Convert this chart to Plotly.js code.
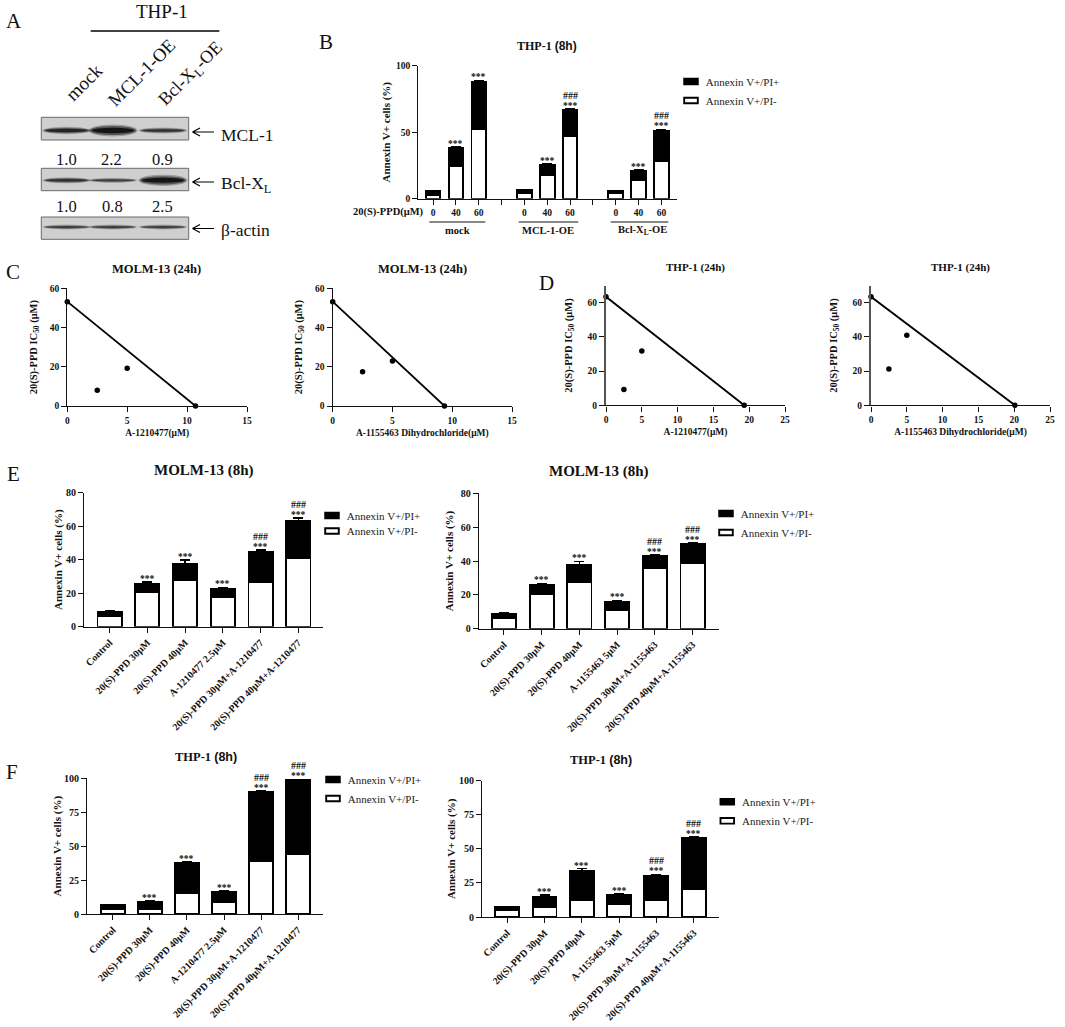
<!DOCTYPE html>
<html>
<head>
<meta charset="utf-8">
<script src="https://cdn.plot.ly/plotly-3.0.1.min.js"></script>
<style>html,body{margin:0;padding:0;background:#fff}</style>
</head>
<body>
<div id="chart" style="width:1065px;height:1027px"></div>
<script>
// ---- values ----
const seriesPlus = 'Annexin V+/PI+'
const seriesMinus = 'Annexin V+/PI-'

// panel A blot
const lanes = ['mock', 'MCL-1-OE', 'Bcl-X<sub>L</sub>-OE']
const proteins = ['MCL-1', 'Bcl-X<sub>L</sub>', 'β-actin']
const mclRatio = ['1.0', '2.2', '0.9']
const bclRatio = ['1.0', '0.8', '2.5']
const mclBand = [0.7, 1, 0.6]
const bclBand = [0.6, 0.5, 0.95]
const actinBand = [0.5, 0.5, 0.5]

// panel B
const bGroups = ['mock', 'MCL-1-OE', 'Bcl-X<sub>L</sub>-OE']
const bDoses = ['0', '40', '60']
const bMinus = [3, 24.5, 52.4, 4.3, 17.5, 47, 4, 14.3, 28.3]
const bPlus = [2.5, 13.5, 35.6, 2.2, 7.8, 19.7, 1.5, 6.5, 22.7]
const bErr = [0.4, 1, 1, 0.5, 1, 1, 0.4, 1, 1.2]
const bStars = ['', '***', '***', '', '***', '***', '', '***', '***']
const bHash = ['', '', '', '', '', '###', '', '', '###']

// panels C, D isobolograms
const cLeftX = [0, 2.5, 5, 10.7]
const cLeftY = [53.2, 8, 19.3, 0]
const cRightX = [0, 2.5, 5, 9.35]
const cRightY = [53.2, 17.5, 23, 0]
const dLeftX = [0, 2.5, 5, 19.3]
const dLeftY = [63.5, 9.2, 31.8, 0]
const dRightX = [0, 2.5, 5, 20.1]
const dRightY = [63.5, 21.2, 41, 0]

// panels E, F
const labels1210477 = ['Control', '20(S)-PPD 30μM', '20(S)-PPD 40μM', 'A-1210477 2.5μM', '20(S)-PPD 30μM+A-1210477', '20(S)-PPD 40μM+A-1210477']
const labels1155463 = ['Control', '20(S)-PPD 30μM', '20(S)-PPD 40μM', 'A-1155463 5μM', '20(S)-PPD 30μM+A-1155463', '20(S)-PPD 40μM+A-1155463']
const sixStars = ['', '***', '***', '***', '***', '***']
const sixHash = ['', '', '', '', '###', '###']

const eLeftMinus = [6.4, 20.5, 27.9, 17.7, 26.5, 40.8]
const eLeftPlus = [2.6, 5.2, 9.5, 4.8, 18.1, 22.5]
const eLeftErr = [0.5, 1, 2.5, 1, 1.3, 1.5]
const eRightMinus = [6.3, 20.5, 27.4, 11, 36, 38.8]
const eRightPlus = [2.7, 5.5, 10.2, 5, 7.2, 11.4]
const eRightErr = [0.4, 0.8, 2.2, 0.8, 0.5, 0.7]
const fLeftMinus = [3.4, 4, 15.7, 8.6, 38.8, 44]
const fLeftPlus = [3.2, 4.6, 21.9, 7.6, 51.2, 54.8]
const fLeftErr = [0.5, 1, 1, 0.7, 1, 0.5]
const fRightMinus = [5.1, 7.1, 12.7, 9.5, 12.7, 20.8]
const fRightPlus = [2.5, 7.9, 21.3, 6.5, 17.3, 36.9]
const fRightErr = [0.3, 1, 1.5, 1.2, 1.2, 1.2]

// ---- helpers ----
const W = 1065, H = 1027
const SERIF = '"Liberation Serif", serif'
const INK = '#111'
const fx = p => p / W
const fy = p => 1 - p / H

let traces = [], annotations = [], shapes = []
let layout = {
    width: W, height: H,
    margin: {l: 0, r: 0, t: 0, b: 0},
    paper_bgcolor: '#fff', plot_bgcolor: 'rgba(0,0,0,0)',
    barmode: 'stack', showlegend: true,
    font: {family: SERIF, color: INK}
}
let axisCount = 0

function note(x, y, text, size, opts) {
    annotations.push(Object.assign({
        xref: 'paper', yref: 'paper', x: fx(x), y: fy(y), text: text, showarrow: false,
        font: {family: SERIF, size: size, color: INK},
        xanchor: 'center', yanchor: 'middle'
    }, opts || {}))
}

// one subplot; returns axis refs
function addAxes(box, xOpts, yOpts) {
    axisCount++
    const n = axisCount === 1 ? '' : axisCount
    const base = {
        showline: true, linecolor: '#111', linewidth: 1.4, showgrid: false, zeroline: false,
        ticks: 'outside', ticklen: 5, tickwidth: 1.4, tickcolor: '#111',
        tickfont: {family: SERIF, size: 9.5, color: INK, weight: 'bold'},
        automargin: false
    }
    layout['xaxis' + n] = Object.assign({}, base, {
        domain: [fx(box.l), fx(box.r)], anchor: 'y' + n, tickmode: 'array', fixedrange: true
    }, xOpts)
    layout['yaxis' + n] = Object.assign({}, base, {
        domain: [fy(box.b), fy(box.t)], anchor: 'x' + n, tickmode: 'array', fixedrange: true
    }, yOpts)
    return {x: 'x' + n, y: 'y' + n}
}

function axisTitle(text, size, standoff) {
    return {text: text, standoff: standoff, font: {family: SERIF, size: size, color: INK, weight: 'bold'}}
}

function stackedBars(refs, legendId, xs, minus, plus, err) {
    const outline = {color: '#000', width: 1.9}
    traces.push({
        type: 'bar', x: xs, y: minus, width: 0.64, name: seriesMinus,
        xaxis: refs.x, yaxis: refs.y, legend: legendId,
        marker: {color: '#fff', line: outline}
    })
    traces.push({
        type: 'bar', x: xs, y: plus, width: 0.64, name: seriesPlus,
        xaxis: refs.x, yaxis: refs.y, legend: legendId,
        marker: {color: '#000', line: outline},
        error_y: {type: 'data', symmetric: false, array: err, arrayminus: err.map(() => 0), color: '#000', thickness: 1.4, width: 5}
    })
}

function placeLegend(legendId, textLeft, firstCenter) {
    layout[legendId] = {
        x: fx(textLeft - 40), y: fy(firstCenter - 15), xanchor: 'left', yanchor: 'top',
        bgcolor: 'rgba(0,0,0,0)', traceorder: 'reversed',
        font: {family: SERIF, size: 11, color: '#222'}
    }
}

// *** and ### sit just above each error cap
function sigMarks(refs, xs, minus, plus, err, stars, hash) {
    xs.forEach((x, i) => {
        const top = minus[i] + plus[i] + err[i]
        const base = {xref: refs.x, yref: refs.y, x: x, y: top, showarrow: false, xanchor: 'center', yanchor: 'middle'}
        if (stars[i]) annotations.push(Object.assign({}, base, {text: stars[i], yshift: 3, font: {family: SERIF, size: 9.5, color: INK, weight: 'bold'}}))
        if (hash[i]) annotations.push(Object.assign({}, base, {text: hash[i], yshift: 13.5, font: {family: SERIF, size: 10, color: INK, weight: 'bold'}}))
    })
}

function barPanel(box, xRange, yRange, yTicks, cats, minus, plus, err, stars, hash, legendId, standoff) {
    const xs = cats.map((c, i) => i)
    const refs = addAxes(box,
        {range: xRange, tickvals: xs, ticktext: cats, tickangle: -45},
        {range: yRange, tickvals: yTicks, title: axisTitle('Annexin V+ cells (%)', 11, standoff)})
    layout['xaxis' + axisCount].tickfont.size = 10
    layout['yaxis' + axisCount].tickfont = {family: SERIF, size: 10, color: INK, weight: 'bold'}
    stackedBars(refs, legendId, xs, minus, plus, err)
    sigMarks(refs, xs, minus, plus, err, stars, hash)
}

function isoPanel(box, xRange, xTicks, yRange, xs, ys, xName, xStandoff, yStandoff) {
    const refs = addAxes(box,
        {range: xRange, tickvals: xTicks, title: axisTitle(xName, 9.5, xStandoff)},
        {range: yRange, tickvals: [0, 20, 40, 60], title: axisTitle('20(S)-PPD IC<sub>50</sub> (μM)', 10.5, yStandoff)})
    const last = xs.length - 1
    traces.push({
        type: 'scatter', mode: 'lines', x: [xs[0], xs[last]], y: [ys[0], ys[last]],
        xaxis: refs.x, yaxis: refs.y, showlegend: false, cliponaxis: false,
        line: {color: '#000', width: 1.8}
    })
    traces.push({
        type: 'scatter', mode: 'markers', x: xs, y: ys,
        xaxis: refs.x, yaxis: refs.y, showlegend: false, cliponaxis: false,
        marker: {color: '#000', size: 5.5}
    })
}

// ---- panel B ----
{
    const slots = [], tickText = []
    bGroups.forEach((g, gi) => {
        bDoses.forEach((d, di) => { slots.push(gi * 4 + di); tickText.push(d) })
        if (gi < bGroups.length - 1) tickText.push('')
    })
    const refs = addAxes({l: 418.3, r: 676.7, t: 65.7, b: 198.7},
        {range: [-0.65, 10.67], tickvals: tickText.map((t, i) => i), ticktext: tickText, tickangle: 0},
        {range: [0, 100], tickvals: [0, 50, 100], title: axisTitle('Annexin V+ cells (%)', 11, 2.6)})
    stackedBars(refs, 'legend', slots, bMinus, bPlus, bErr)
    sigMarks(refs, slots, bMinus, bPlus, bErr, bStars, bHash)
    placeLegend('legend', 705.7, 82)

    note(425.7, 212, '20(S)-PPD(μM)', 10.5, {xanchor: 'right', font: {family: SERIF, size: 10.5, color: INK, weight: 'bold'}})
    const spans = [[429.3, 485.3, 457], [518.7, 578.3, 548], [610.7, 668.3, 642.7]]
    bGroups.forEach((g, i) => {
        shapes.push({type: 'line', xref: 'paper', yref: 'paper', x0: fx(spans[i][0]), x1: fx(spans[i][1]), y0: fy(222), y1: fy(222), line: {color: '#111', width: 1.1}})
        note(spans[i][2], 230.5, g, 10.5, {font: {family: SERIF, size: 10.5, color: INK, weight: 'bold'}})
    })
}

// ---- panels C, D ----
isoPanel({l: 67.3, r: 247, t: 288.3, b: 406}, [0, 15], [0, 5, 10, 15], [0, 60], cLeftX, cLeftY, 'A-1210477(μM)', 4, 10)
isoPanel({l: 332.7, r: 512, t: 288.3, b: 406}, [0, 15], [0, 5, 10, 15], [0, 60], cRightX, cRightY, 'A-1155463 Dihydrochloride(μM)', 4, 10)
isoPanel({l: 606, r: 785, t: 285.7, b: 405.3}, [0, 25], [0, 5, 10, 15, 20, 25], [0, 70], dLeftX, dLeftY, 'A-1210477(μM)', 4, 13)
isoPanel({l: 871, r: 1050, t: 285.7, b: 405.3}, [0, 25], [0, 5, 10, 15, 20, 25], [0, 70], dRightX, dRightY, 'A-1155463 Dihydrochloride(μM)', 4, 13)
// the D panels have a heavier grey y axis
;[layout.yaxis4, layout.yaxis5].forEach(a => { a.linewidth = 2; a.linecolor = '#555' })

// ---- panels E, F ----
barPanel({l: 84.3, r: 323.3, t: 492.7, b: 626.7}, [-0.67, 5.66], [0, 80], [0, 20, 40, 60, 80], labels1210477, eLeftMinus, eLeftPlus, eLeftErr, sixStars, sixHash, 'legend2', 0.6)
placeLegend('legend2', 346.7, 516)
barPanel({l: 479, r: 719, t: 493.3, b: 628.7}, [-0.66, 5.7], [0, 80], [0, 20, 40, 60, 80], labels1155463, eRightMinus, eRightPlus, eRightErr, sixStars, sixHash, 'legend3', 4)
placeLegend('legend3', 740.7, 514)
barPanel({l: 87.3, r: 323.3, t: 778.3, b: 914}, [-0.69, 5.68], [0, 100], [0, 25, 50, 75, 100], labels1210477, fLeftMinus, fLeftPlus, fLeftErr, sixStars, sixHash, 'legend4', 0)
placeLegend('legend4', 347.7, 780)
barPanel({l: 482.3, r: 719, t: 780.7, b: 917}, [-0.67, 5.68], [0, 100], [0, 25, 50, 75, 100], labels1155463, fRightMinus, fRightPlus, fRightErr, sixStars, sixHash, 'legend5', 1)
placeLegend('legend5', 742, 802.3)

// ---- panel titles ----
const boldTitle = (x, y, text, size) => note(x, y, text, size, {font: {family: SERIF, size: size, color: INK, weight: 'bold'}})
const thp8h = 'THP-1 <span style="font-family:Liberation Sans">(8h)</span>'
boldTitle(547.3, 45.7, thp8h, 12)
boldTitle(156.7, 269.3, 'MOLM-13 (24h)', 12.5)
boldTitle(422, 269.3, 'MOLM-13 (24h)', 12.5)
boldTitle(695, 267.7, 'THP-1 (24h)', 11)
boldTitle(960, 267.7, 'THP-1 (24h)', 11)
boldTitle(204, 470.7, 'MOLM-13 (8h)', 15)
boldTitle(599, 471.7, 'MOLM-13 (8h)', 15)
boldTitle(206, 757.3, thp8h, 12.5)
boldTitle(600.7, 760, thp8h, 12.5)

// ---- panel letters ----
note(14, 20.7, 'A', 21)
note(325.7, 41.7, 'B', 21)
note(13.3, 271.7, 'C', 21)
note(546.7, 283, 'D', 21)
note(13.3, 474.3, 'E', 21)
note(12, 771.7, 'F', 21)

// ---- panel A blot, drawn as shapes ----
note(161.7, 12, 'THP-1', 19)
shapes.push({type: 'line', xref: 'paper', yref: 'paper', x0: fx(90.7), x1: fx(219.3), y0: fy(31), y1: fy(31), line: {color: '#000', width: 1.4}})
const laneCx = [66.7, 113, 163]
note(84, 82.7, lanes[0], 19, {textangle: -45})
note(141.7, 73.3, lanes[1], 18.5, {textangle: -45})
note(190.7, 74, lanes[2], 18, {textangle: -45})
mclRatio.forEach((t, i) => note([66.7, 111.7, 162.3][i], 159, t, 16.5))
bclRatio.forEach((t, i) => note([66.7, 112.3, 162.3][i], 206.7, t, 16.5))

function blotRow(top, bottom, bands, bandY, label, labelY, arrowY) {
    shapes.push({type: 'rect', xref: 'paper', yref: 'paper', x0: fx(41.3), x1: fx(188.7), y0: fy(top), y1: fy(bottom),
        fillcolor: '#cfcfcf', line: {color: '#6a6a6a', width: 1}})
    bands.forEach((s, i) => {
        const h = 2 + 7 * s * s
        ;[[1.02, 1.35, 0.25], [0.96, 1, 0.45], [0.88, 0.6, 0.75]].forEach(k => {
            shapes.push({type: 'circle', xref: 'paper', yref: 'paper',
                x0: fx(laneCx[i] - 24 * k[0]), x1: fx(laneCx[i] + 24 * k[0]),
                y0: fy(bandY - h / 2 * k[1]), y1: fy(bandY + h / 2 * k[1]),
                fillcolor: '#000', opacity: k[2] * Math.min(1, s + 0.15), line: {width: 0}})
        })
    })
    const a = [fx(192.5), fy(arrowY)], tail = fx(214)
    shapes.push({type: 'path', xref: 'paper', yref: 'paper',
        path: `M${tail},${a[1]} L${a[0]},${a[1]} L${fx(200)},${fy(arrowY - 4)} M${a[0]},${a[1]} L${fx(200)},${fy(arrowY + 4)}`,
        line: {color: '#000', width: 1.2}})
    note(219, labelY, label, 17.5, {xanchor: 'left'})
}
blotRow(117.3, 140, mclBand, 130.5, proteins[0], 134.7, 132)
blotRow(168.3, 190.7, bclBand, 180.3, proteins[1], 184.5, 182)
blotRow(217, 239.3, actinBand, 227, proteins[2], 229.7, 228.5)

layout.annotations = annotations
layout.shapes = shapes

// legend keys in the figure are flat, wide boxes; the first E legend is also tighter
function restyleLegendKeys() {
    document.querySelectorAll('g.legendpoints path').forEach(p => {
        p.setAttribute('d', 'M6.8,2.8H-6.8V-2.8H6.8Z')
        p.setAttribute('transform', 'translate(25.3,0)')
    })
    const items = document.querySelectorAll('g.legend2 g.traces')
    if (items.length === 2) {
        const y0 = +items[0].getAttribute('transform').match(/,\s*([-\d.]+)\)/)[1]
        items[1].setAttribute('transform', 'translate(0,' + (y0 + 15.5) + ')')
    }
}

const gd = document.getElementById('chart')
Plotly.newPlot(gd, traces, layout, {displayModeBar: false}).then(() => {
    gd.on('plotly_afterplot', restyleLegendKeys)
    restyleLegendKeys()
    setTimeout(restyleLegendKeys, 50)
    setTimeout(restyleLegendKeys, 300)
})
</script>
</body>
</html>
